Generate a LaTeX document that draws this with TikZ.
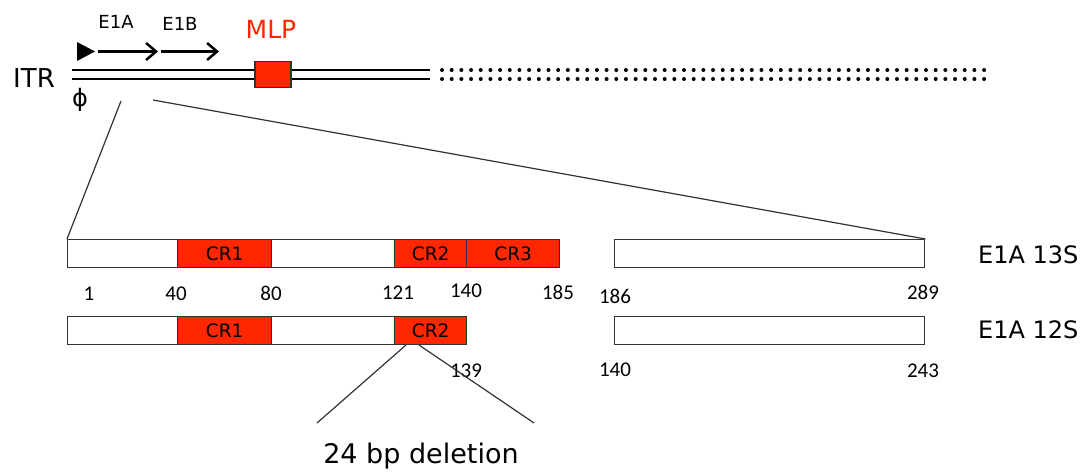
\documentclass[tikz,border=0pt]{standalone}
\usepackage{fontspec}
\setmainfont{DejaVu Sans}
\newfontfamily\numfont{Carlito}
\usetikzlibrary{arrows.meta}
\definecolor{crred}{RGB}{255,38,0}
\definecolor{edge}{RGB}{50,50,50}

\begin{document}
\begin{tikzpicture}[x=1pt,y=-1pt,
  seg/.style={draw=edge, line width=1.4pt, fill=white, minimum height=28pt,
    inner sep=0pt, anchor=north west, font=\fontsize{18.5}{18.5}\selectfont},
  crseg/.style={seg, fill=crred},
  num/.style={anchor=base, inner sep=0pt, font=\numfont\fontsize{21}{21}\selectfont},
  isoform/.style={anchor=base west, inner sep=0pt, font=\fontsize{24}{24}\selectfont},
  genelbl/.style={anchor=base, inner sep=0pt, font=\fontsize{18}{18}\selectfont},
  strand/.style={line width=2.6pt},
  zoomline/.style={draw=edge, line width=1.2pt},
  gene/.style={line width=2.5pt, -{Straight Barb[length=10pt,width=17pt,line width=2.5pt]}},
  dot/.style={fill=black}]
\useasboundingbox (0,0) rectangle (1091,472);

% --- genome: ITR, double strand, MLP, dotted continuation
\node[anchor=base west, inner sep=0pt, font=\fontsize{26}{26}\selectfont] (itr) at (13,87) {ITR};
\coordinate (s0) at (72,0);
\coordinate (s1) at (430,0);
\draw[strand] (s0 |- 0,70) -- (s1 |- 0,70);
\draw[strand] (s0 |- 0,79) -- (s1 |- 0,79);
\node[draw=edge, line width=1.4pt, fill=crred, minimum width=36pt, minimum height=26pt,
  inner sep=0pt] (mlpbox) at (273,74.5) {};
\node[anchor=base, inner sep=0pt, text=crred, font=\fontsize{25}{25}\selectfont] (mlp) at (271,38) {MLP};
\foreach \i in {0,...,56} {
  \fill[dot] (442+\i*9.68,70) circle (2);
  \fill[dot] (442+\i*9.68,79) circle (2);
}
\node[inner sep=0pt, font=\fontsize{24}{24}\selectfont] (phi) at (80,100) {ϕ};

% --- promoter and transcription units
\fill (77,42) -- (95,51.5) -- (77,61) -- cycle;
\coordinate (e1a0) at (98,51.5);
\coordinate (e1a1) at (158,51.5);
\coordinate (e1b0) at (161,51.5);
\coordinate (e1b1) at (219,51.5);
\draw[gene] (e1a0) -- (e1a1);
\draw[gene] (e1b0) -- (e1b1);
\node[genelbl] (e1alab) at (116,28) {E1A};
\node[genelbl] (e1blab) at (180,30) {E1B};

% --- E1A 13S protein
\node[seg, minimum width=110pt] (a1) at (67,239) {};
\node[crseg, minimum width=94pt] (a2) at (177,239) {CR1};
\node[seg, minimum width=123pt] (a3) at (271,239) {};
\node[crseg, minimum width=72pt] (a4) at (394,239) {CR2};
\node[crseg, minimum width=93pt] (a5) at (466,239) {CR3};
\node[seg, minimum width=310pt] (a6) at (614,239) {};
\node[isoform] (l13) at (978,263) {E1A 13S};

% --- E1A 12S protein
\node[seg, minimum width=110pt] (b1) at (67,316) {};
\node[crseg, minimum width=94pt] (b2) at (177,316) {CR1};
\node[seg, minimum width=123pt] (b3) at (271,316) {};
\node[crseg, minimum width=72pt] (b4) at (394,316) {CR2};
\node[seg, minimum width=310pt] (b6) at (614,316) {};
\node[isoform] (l12) at (978,338) {E1A 12S};

% --- residue numbers
\node[num] (n1) at (89,300) {1};
\node[num] (n40) at (176,300) {40};
\node[num] (n80) at (271,300) {80};
\node[num] (n121) at (398,299) {121};
\node[num] (n140) at (466,297) {140};
\node[num] (n185) at (558,299) {185};
\node[num] (n186) at (615,303) {186};
\node[num] (n289) at (923,299) {289};
\node[num] (n139) at (466,377) {139};
\node[num] (m140) at (615,376) {140};
\node[num] (n243) at (923,377) {243};

% --- expansion lines from the genome to the protein map
\coordinate (z1) at (121,101);
\coordinate (z2) at (153,100);
\draw[zoomline] (z1) -- (a1.north west);
\draw[zoomline] (z2) -- (a6.north east);

% --- deletion inset
\coordinate (d0) at (406,345);
\coordinate (d1) at (419,345);
\coordinate (d2) at (317,423);
\coordinate (d3) at (534,423);
\draw[zoomline] (d0) -- (d2);
\draw[zoomline] (d1) -- (d3);
\node[anchor=base, inner sep=0pt, font=\fontsize{27}{27}\selectfont] (del) at (421,463) {24 bp deletion};
\end{tikzpicture}
\end{document}
